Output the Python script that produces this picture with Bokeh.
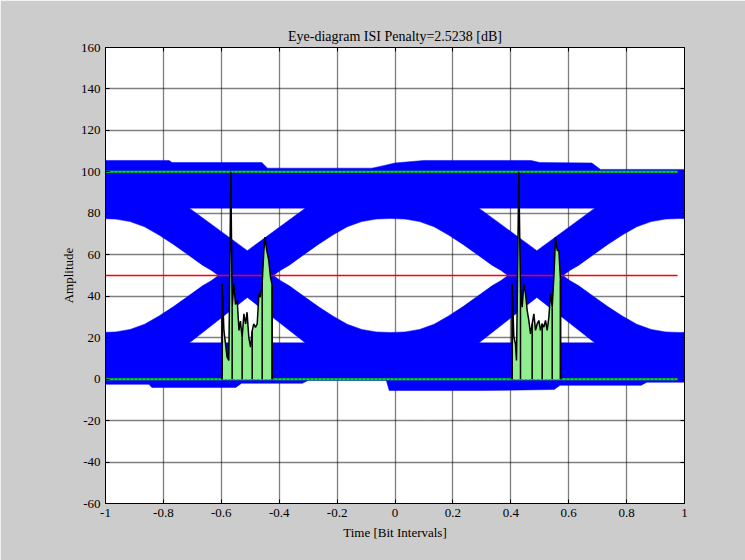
import numpy as np
from bokeh.plotting import figure
from bokeh.models import Range1d, LinearAxis, CustomJSTickFormatter, FixedTicker
from bokeh.embed import file_html
from bokeh.resources import INLINE

# ---- axes ----
x_ticks = [-1, -0.8, -0.6, -0.4, -0.2, 0, 0.2, 0.4, 0.6, 0.8, 1]
x_tick_labels = ["-1", "-0.8", "-0.6", "-0.4", "-0.2", "0", "0.2", "0.4", "0.6", "0.8", "1"]
y_ticks = [-60, -40, -20, 0, 20, 40, 60, 80, 100, 120, 140, 160]
y_tick_labels = [str(v) for v in y_ticks]

# ---- eye envelope ----
# outer edge of the "one" rail
top_x = [-1.0, -0.78, -0.77, -0.46, -0.44, -0.08, -0.04, 0.0, 0.1, 0.47, 0.5, 0.68, 0.71, 1.0]
top_y = [105.5, 105.5, 104.5, 104.5, 101.8, 101.8, 103.0, 104.3, 105.5, 105.5, 104.5, 104.3, 101.2, 101.2]
# outer edge of the "zero" rail
bot_x = [-1.0, -0.85, -0.84, -0.55, -0.53, -0.32, -0.30, -0.03, -0.02, 0.3, 0.55, 0.57, 0.85, 0.87, 1.0]
bot_y = [-2.5, -2.5, -4.0, -4.0, -2.0, -2.0, -0.6, -0.6, -5.5, -5.5, -5.0, -3.0, -3.0, -1.5, -1.5]

# eye opening half-height versus distance from the eye centre
eye_d = [0.0, 0.05, 0.10, 0.15, 0.20, 0.25, 0.30, 0.35, 0.38, 0.405]
eye_h = [27.5, 27.2, 26.0, 23.5, 19.5, 15.0, 10.0, 5.0, 2.5, 0.0]
eye_mid = 50.0
eye_centres = [-1.015, -0.015, 0.985]

# white gaps between the rails and the crossing points
crossings = [-0.51, 0.49]
gap_half_width = 0.2
upper_gap_base, upper_gap_tip = 82.5, 62.0
lower_gap_base, lower_gap_tip = 17.5, 39.4

# reference levels
level_x = [-1.0, 0.976]
level_one, level_zero, threshold = 100.0, 0.0, 50.0

# ---- crossing-time distributions ----
left_x = [-0.597, -0.597, -0.591, -0.580, -0.574, -0.567, -0.5625, -0.557, -0.551, -0.545, -0.539,
          -0.534, -0.528, -0.522, -0.516, -0.511, -0.505, -0.499, -0.493, -0.488, -0.482, -0.476,
          -0.470, -0.465, -0.459, -0.453, -0.449, -0.444, -0.436, -0.430, -0.424, -0.424]
left_y = [0, 46, 23.5, 10.6, 9.0, 100.0, 34.7, 46.0, 36.0, 38.0, 23.5,
          28.0, 20.0, 31.5, 26.7, 32.3, 20.2, 15.4, 23.5, 26.7, 25.0, 26.7,
          41.2, 39.5, 46.0, 62.0, 68.5, 62.9, 57.2, 49.2, 45.0, 0]
left_edges = [-0.597, -0.5625, -0.528, -0.4933, -0.4588, -0.4242]

right_x = [0.4047, 0.4047, 0.4105, 0.4162, 0.4197, 0.4277, 0.4335, 0.4393, 0.4450, 0.4508, 0.4566,
           0.4623, 0.4681, 0.4738, 0.4796, 0.4854, 0.4911, 0.4969, 0.5026, 0.5084, 0.5142, 0.5199,
           0.5257, 0.5315, 0.5372, 0.5430, 0.5487, 0.5545, 0.5602, 0.5660, 0.5717, 0.5717]
right_y = [0, 46.0, 20.2, 17.0, 9.0, 100.0, 42.8, 34.7, 46.0, 41.2, 33.1,
           28.3, 21.8, 26.7, 31.5, 23.5, 26.7, 28.3, 23.5, 26.7, 25.1, 28.3,
           23.5, 29.9, 41.2, 34.7, 49.2, 68.5, 62.1, 62.1, 47.6, 0]
right_edges = [0.4047, 0.4335, 0.4738, 0.5084, 0.5430, 0.5717]


def eye_lens(cx):
    """Closed ring around one full eye opening."""
    d = np.array(eye_d)
    h = np.array(eye_h)
    ux = np.concatenate([cx - d[::-1], cx + d[1:]])
    uy = np.concatenate([eye_mid + h[::-1], eye_mid + h[1:]])
    lx = np.concatenate([cx + d[::-1][1:-1], cx - d[:-1]])
    ly = np.concatenate([eye_mid - h[::-1][1:-1], eye_mid - h[:-1]])
    return list(np.concatenate([ux, lx])), list(np.concatenate([uy, ly]))


def triangle(cx, base, tip):
    return [cx - gap_half_width, cx + gap_half_width, cx], [base, base, tip]


# outer ring: top rail, notch of the right-hand eye, bottom rail, notch of the left-hand eye
d = np.array(eye_d)
h = np.array(eye_h)
xl, xr = x_ticks[0], x_ticks[-1]
cr = eye_centres[-1]
cl = eye_centres[0]
h_r = float(np.interp(xr - cr, d, h))
h_l = float(np.interp(xl - cl, d, h))

ox, oy = list(top_x), list(top_y)
ox += [xr] + list(cr - d) + list(cr - d[::-1][1:]) + [xr]
oy += [eye_mid + h_r] + list(eye_mid + h) + list(eye_mid - h[::-1][1:]) + [eye_mid - h_r]
ox += bot_x[::-1]
oy += bot_y[::-1]
keep = d > (xl - cl)
ox += [xl] + list(cl + d[keep]) + list(cl + d[keep][::-1][1:]) + [xl]
oy += [eye_mid - h_l] + list(eye_mid - h[keep]) + list(eye_mid + h[keep][::-1][1:]) + [eye_mid + h_l]

rings_x, rings_y = [ox], [oy]
lx_, ly_ = eye_lens(eye_centres[1])
rings_x.append(lx_)
rings_y.append(ly_)
for c in crossings:
    tx, ty = triangle(c, upper_gap_base, upper_gap_tip)
    rings_x.append(tx)
    rings_y.append(ty)
    tx, ty = triangle(c, lower_gap_base, lower_gap_tip)
    rings_x.append(tx)
    rings_y.append(ty)

# ---- figure ----
FONT = "Liberation Serif"
p = figure(width=745, height=560, output_backend="svg", toolbar_location=None,
           x_range=Range1d(-1, 1), y_range=Range1d(-60, 160),
           min_border_left=105, min_border_right=61, min_border_top=47, min_border_bottom=57,
           background_fill_color="white", border_fill_color="#cccccc",
           outline_line_color="black", outline_line_width=1,
           title="Eye-diagram ISI Penalty=2.5238 [dB]")

p.title.align = "center"
p.title.text_font = FONT
p.title.text_font_size = "14px"
p.title.text_font_style = "normal"
p.title.text_color = "black"
p.title.standoff = 7

xax = p.below[0]
yax = p.left[0]

# box ticks on the top and right edges
blank = CustomJSTickFormatter(code="return ''")
p.add_layout(LinearAxis(formatter=blank), "above")
p.add_layout(LinearAxis(formatter=blank), "right")

for ax in p.xaxis:
    ax.ticker = FixedTicker(ticks=x_ticks)
for ax in p.yaxis:
    ax.ticker = FixedTicker(ticks=y_ticks)
p.xgrid.ticker = FixedTicker(ticks=x_ticks)
p.ygrid.ticker = FixedTicker(ticks=y_ticks)

for ax in p.xaxis + p.yaxis:
    ax.major_tick_in = 4
    ax.major_tick_out = 0
    ax.minor_tick_line_color = None
    ax.axis_line_color = "black"
    ax.major_tick_line_color = "black"
    ax.major_label_standoff = 5
    ax.major_label_text_font = FONT
    ax.major_label_text_font_size = "13px"
    ax.major_label_text_color = "black"

xax.major_label_overrides = dict(zip(x_ticks, x_tick_labels))
yax.major_label_overrides = dict(zip(y_ticks, y_tick_labels))
xax.axis_label = "Time [Bit Intervals]"
yax.axis_label = "Amplitude"
for ax in (xax, yax):
    ax.axis_label_text_font = FONT
    ax.axis_label_text_font_size = "13px"
    ax.axis_label_text_font_style = "normal"
    ax.axis_label_text_color = "black"
xax.axis_label_standoff = 5
yax.axis_label_standoff = 2
for ax in p.above + p.right:
    ax.major_label_standoff = 0
    ax.major_label_text_font_size = "1px"

p.grid.grid_line_color = "black"
p.grid.grid_line_dash = "1 1"
p.grid.grid_line_width = 1.3

# eye traces
p.multi_polygons(xs=[[rings_x]], ys=[[rings_y]], fill_color="#0000ff", line_color="#0000ff", line_width=0.5)

# reference levels
for lvl in (level_one, level_zero):
    p.line(level_x, [lvl] * 2, line_color="#00ee00", line_width=2)
    p.line(level_x, [lvl] * 2, line_color="#007700", line_width=2, line_dash="1 3")
p.line(level_x, [threshold] * 2, line_color="#ff0000", line_width=1.5)

# crossing-time distributions
for cx_, cy_, edges in ((left_x, left_y, left_edges), (right_x, right_y, right_edges)):
    p.varea(x=cx_, y1=[0] * len(cx_), y2=cy_, fill_color="#90ee90")
    tops = list(np.interp(edges, cx_[1:-1], cy_[1:-1]))
    p.segment(x0=edges, y0=[0] * len(edges), x1=edges, y1=tops, line_color="black", line_width=1.5)
    p.line(cx_, cy_, line_color="black", line_width=1.5)

open("out.html", "w").write(file_html(p, INLINE))
